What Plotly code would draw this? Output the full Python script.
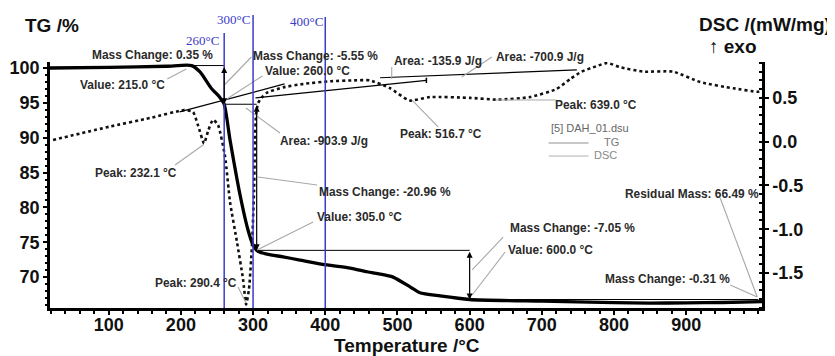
import plotly.graph_objects as go

# ---------------- data ----------------
tg_temp = [18.7, 100, 180, 215, 226.5, 241.8, 253.5, 260, 268.1, 282, 293, 300, 305,
           309.7, 319.4, 341.6, 365, 402.5, 434.4, 458, 480, 494, 517.5, 531, 559,
           600, 700, 800, 850, 900, 950, 1005]
tg_mass = [100.0, 100.1, 100.25, 100.35, 99.43, 97.13, 95.84, 94.8, 89.67, 81.78, 76.76,
           74.6, 73.84, 73.56, 73.3, 72.9, 72.45, 71.74, 71.3, 70.77, 70.35, 70.0, 68.6,
           67.75, 67.3, 66.79, 66.55, 66.35, 66.28, 66.3, 66.36, 66.48]

dsc_temp = [22.9, 100.4, 157.2, 204.4, 216.8, 224, 232.1, 238, 244.5, 251.5, 261.2, 268.1,
            277.8, 286.1, 290.4, 294.4, 298.6, 301.4, 302.7, 304.1, 306.9, 313.8, 319.4,
            341.6, 370, 406.7, 440, 462, 489.8, 516.7, 545.3, 600.8, 639, 684, 720,
            740, 755, 775, 790.6, 808.6, 840.5, 882, 919.6, 965.2, 998.5, 1005]
dsc_val = [0.02, 0.17, 0.27, 0.36, 0.34, 0.18, -0.02, 0.13, 0.25, 0.19, -0.17, -0.69,
           -1.15, -1.57, -1.86, -1.68, -1.17, -0.55, 0.02, 0.31, 0.44, 0.52, 0.56,
           0.62, 0.66, 0.69, 0.70, 0.70, 0.61, 0.47, 0.51, 0.50, 0.48, 0.51, 0.60,
           0.72, 0.80, 0.86, 0.90, 0.85, 0.80, 0.80, 0.68, 0.61, 0.57, 0.58]

# mass-step evaluation (temperature limits and mass levels)
step_temp = [215, 260, 305, 600, 1000]
step_mass = [100.35, 94.8, 73.84, 66.79, 66.48]

# DSC baselines / tangents (temperature, DSC value)
baselines = [((198.2, 0.34), (343.6, 0.66)),
             ((303.4, 0.50), (540.1, 0.70)),
             ((476.0, 0.73), (748.5, 0.82))]

marker_temps = [260, 300, 400]
marker_labels = ["260°C", "300°C", "400°C"]

x_ticks = [100, 200, 300, 400, 500, 600, 700, 800, 900]
tg_ticks = [70, 75, 80, 85, 90, 95, 100]
dsc_ticks = [-1.5, -1.0, -0.5, 0.0, 0.5]
dsc_ticktext = ["-1.5", "-1.0", "-0.5", "0.0", "0.5"]

# evaluation labels: text, label centre (temperature, fraction of plot height)
labels = [
    ("Mass Change: 0.35 %", 160.2, 1.0285),
    ("Value: 215.0 °C", 118.6, 0.9065),
    ("Mass Change: -5.55 %", 386.0, 1.0244),
    ("Value: 260.0 °C", 374.9, 0.9634),
    ("Area: -135.9 J/g", 556.4, 1.0041),
    ("Area: -700.9 J/g", 697.8, 1.0203),
    ("Peak: 639.0 °C", 775.5, 0.8252),
    ("Peak: 516.7 °C", 560.5, 0.7073),
    ("Area: -903.9 J/g", 398.3, 0.6789),
    ("Peak: 232.1 °C", 138.0, 0.5488),
    ("Mass Change: -20.96 %", 483.1, 0.4715),
    ("Value: 305.0 °C", 446.8, 0.3699),
    ("Mass Change: -7.05 %", 742.2, 0.3252),
    ("Value: 600.0 °C", 711.7, 0.2358),
    ("Residual Mass: 66.49 %", 908.5, 0.4634),
    ("Mass Change: -0.31 %", 873.9, 0.1179),
    ("Peak: 290.4 °C", 221.1, 0.1016),
]
# leader lines: (temperature, fraction of plot height) pairs
leaders = [
    ((181.1, 0.9309), (207.5, 0.9715)),
    ((297.6, 1.0203), (260.2, 0.9065)),
    ((312.8, 0.9431), (261.5, 0.8455)),
    ((492.1, 0.9797), (492.1, 0.9309)),
    ((630.7, 1.0203), (589.1, 0.9390)),
    ((719.3, 0.8455), (636.2, 0.8455)),
    ((556.3, 0.7358), (520.3, 0.8455)),
    ((337.2, 0.7114), (290.1, 0.8130)),
    ((191.9, 0.5813), (230.7, 0.6626)),
    ((388.7, 0.5000), (306.9, 0.5325)),
    ((383.2, 0.3496), (305.5, 0.2358)),
    ((646.4, 0.2886), (603.5, 0.1545)),
    ((649.2, 0.2276), (603.5, 0.0528)),
    ((947.1, 0.4472), (998.4, 0.0447)),
    ((961.0, 0.0935), (998.4, 0.0447)),
    ((279.2, 0.0854), (290.3, 0.0203)),
]

FONT = "Liberation Sans, Arial, sans-serif"
BLUE = "#3b3bc8"
GREY = "#a8a8a8"

fig = go.Figure()
fig.add_trace(go.Scatter(x=tg_temp, y=tg_mass, mode="lines", name="TG",
                         line=dict(color="black", width=3.3, shape="spline", smoothing=0.6),
                         yaxis="y"))
fig.add_trace(go.Scatter(x=dsc_temp, y=dsc_val, mode="lines", name="DSC",
                         line=dict(color="#111111", width=2.6, dash="dot",
                                   shape="spline", smoothing=0.5),
                         yaxis="y2"))

shapes = []
# step lines
for i in range(len(step_temp) - 1):
    shapes.append(dict(type="line", xref="x", yref="y", x0=step_temp[i], x1=step_temp[i + 1],
                       y0=step_mass[i], y1=step_mass[i], line=dict(color="black", width=1)))
# DSC baselines
for (a, b) in baselines:
    shapes.append(dict(type="line", xref="x", yref="y2", x0=a[0], x1=b[0], y0=a[1], y1=b[1],
                       line=dict(color="black", width=1.2)))
shapes.append(dict(type="line", xref="x", yref="y2", x0=540.1, x1=540.1, y0=0.67, y1=0.73,
                   line=dict(color="black", width=1.5)))
# leader lines
for (a, b) in leaders:
    shapes.append(dict(type="line", xref="x", yref="paper", x0=a[0], x1=b[0], y0=a[1],
                       y1=b[1], line=dict(color=GREY, width=1.1)))
# blue temperature markers
marker_tops = [1.118, 1.191, 1.183]
for t, top in zip(marker_temps, marker_tops):
    shapes.append(dict(type="line", xref="x", yref="paper", x0=t, x1=t, y0=0, y1=top,
                       line=dict(color=BLUE, width=1.5)))
# legend lines
shapes.append(dict(type="line", xref="x", yref="y", x0=709.4, x1=764.8, y0=89.24, y1=89.24,
                   line=dict(color="#909090", width=1)))
shapes.append(dict(type="line", xref="x", yref="y", x0=709.4, x1=764.8, y0=87.37, y1=87.37,
                   line=dict(color="#b0b0b0", width=1)))

annotations = []
for text, x, y in labels:
    annotations.append(dict(text=text, x=x, y=y, xref="x", yref="paper", showarrow=False,
                            font=dict(family=FONT, size=11.9, color="#2a2a2a", weight="bold"),
                            xanchor="center", yanchor="middle"))
# step arrows
for i in range(1, len(step_temp) - 1):
    annotations.append(dict(text="", x=step_temp[i], y=step_mass[i], ax=step_temp[i],
                            ay=step_mass[i - 1], xref="x", yref="y", axref="x", ayref="y",
                            showarrow=True, arrowhead=2, arrowside="end+start",
                            arrowsize=1, arrowwidth=1.2, arrowcolor="black"))
# blue marker labels
marker_lab_pos = [(229.6, 1.089), (272.3, 1.171), (373.5, 1.163)]
for lab, (x, y) in zip(marker_labels, marker_lab_pos):
    annotations.append(dict(text=lab, x=x, y=y, xref="x", yref="paper", showarrow=False,
                            font=dict(family="Liberation Serif, Times New Roman, serif",
                                      size=13, color=BLUE),
                            xanchor="center", yanchor="middle"))
# legend texts
annotations += [
    dict(text="[5] DAH_01.dsu", x=709.4, y=91.39, xref="x", yref="y", showarrow=False,
         xanchor="left", yanchor="middle", font=dict(family=FONT, size=11, color="#666")),
    dict(text="TG", x=783.9, y=89.38, xref="x", yref="y", showarrow=False,
         xanchor="left", yanchor="middle", font=dict(family=FONT, size=11, color="#777")),
    dict(text="DSC", x=770.0, y=87.52, xref="x", yref="y", showarrow=False,
         xanchor="left", yanchor="middle", font=dict(family=FONT, size=11, color="#888")),
]
# axis titles
annotations += [
    dict(text="TG /%", x=-0.038, y=1.15, xref="paper", yref="paper", showarrow=False,
         xanchor="left", yanchor="middle",
         font=dict(family=FONT, size=19, color="#111", weight="bold")),
    dict(text="DSC /(mW/mg)", x=1.0997, y=1.154, xref="paper", yref="paper", showarrow=False,
         xanchor="right", yanchor="middle",
         font=dict(family=FONT, size=19, color="#111", weight="bold")),
    dict(text="↑ exo", x=0.959, y=1.065, xref="paper", yref="paper", showarrow=False,
         xanchor="center", yanchor="middle",
         font=dict(family=FONT, size=19, color="#111", weight="bold")),
    dict(text="Temperature /°C", x=0.501, y=-0.153, xref="paper", yref="paper",
         showarrow=False, xanchor="center", yanchor="middle",
         font=dict(family=FONT, size=19, color="#111", weight="bold")),
]

tickfont = dict(family=FONT, size=18, color="#111", weight="bold")
# page body adds an 8px offset, so the figure is 8px smaller and margins shifted
fig.update_layout(
    width=827, height=348,
    margin=dict(l=42, r=73, t=54, b=48, autoexpand=False),
    paper_bgcolor="white", plot_bgcolor="white",
    showlegend=False,
    shapes=shapes,
    annotations=annotations,
    xaxis=dict(range=[18.7, 1005], tickvals=x_ticks, showline=True, linecolor="black",
               linewidth=2.5, ticks="outside", ticklen=4, tickwidth=2, tickcolor="black",
               minor=dict(dtick=20, tick0=0, ticks="outside", ticklen=3, tickcolor="black"),
               tickfont=tickfont, showgrid=False, zeroline=False, automargin=False,
               ticklabelstandoff=-5),
    yaxis=dict(range=[65.57, 100.86], tickvals=tg_ticks, showline=True, linecolor="black",
               linewidth=2.5, ticks="outside", ticklen=4, tickwidth=2, tickcolor="black",
               minor=dict(dtick=1, tick0=0, ticks="outside", ticklen=2, tickcolor="black"),
               tickfont=tickfont, showgrid=False, zeroline=False, automargin=False),
    yaxis2=dict(range=[-1.90, 0.91], tickvals=dsc_ticks, ticktext=dsc_ticktext,
                overlaying="y", side="right", showline=True, linecolor="black",
                linewidth=2.5, ticks="outside", ticklen=4, tickwidth=2, tickcolor="black",
                minor=dict(dtick=0.1, tick0=0, ticks="inside", ticklen=3, tickcolor="black"),
                tickfont=tickfont, showgrid=False, zeroline=False, automargin=False),
)

fig.write_html("out.html")
